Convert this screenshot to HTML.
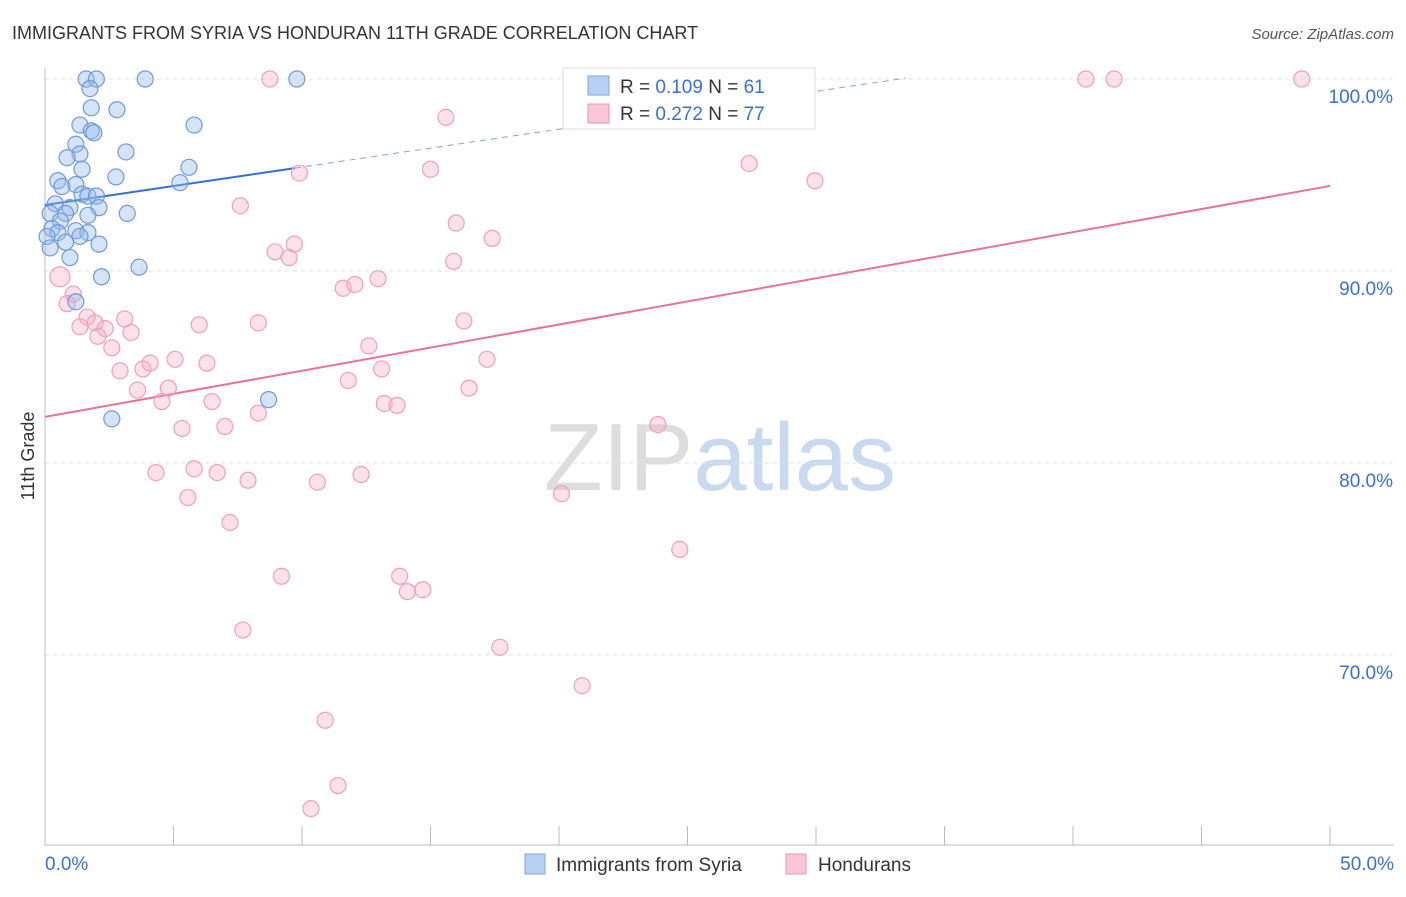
<!DOCTYPE html>
<html><head><meta charset="utf-8">
<style>
body{margin:0;background:#fff;font-family:"Liberation Sans",sans-serif;}
svg text{font-family:"Liberation Sans",sans-serif;}
</style></head>
<body>
<svg id="chart" width="1406" height="892" xmlns="http://www.w3.org/2000/svg">
<text x="12" y="39" font-size="18" fill="#333">IMMIGRANTS FROM SYRIA VS HONDURAN 11TH GRADE CORRELATION CHART</text>
<text x="1394" y="39" font-size="15" fill="#555" text-anchor="end" font-style="italic">Source: ZipAtlas.com</text>
<text x="720" y="490" font-size="96" fill="#ddd" text-anchor="middle" font-family="Liberation Serif">ZIP<tspan fill="#c9d9f0" font-family="Liberation Sans">atlas</tspan></text>
<text transform="translate(34,456) rotate(-90)" font-size="18" fill="#333" text-anchor="middle">11th Grade</text>
<g id="grid"></g><g id="axes"></g><g id="trends"></g><g id="pts"></g>
<g>
<rect x="563" y="68" width="252" height="61" fill="#fff" stroke="#ddd"/>
<rect x="588" y="76" width="21" height="19" fill="#b7d0f3" stroke="#7ea6e0"/>
<rect x="588" y="104" width="21" height="19" fill="#f9c6d6" stroke="#eb93b0"/>
<text x="620" y="93" font-size="19" fill="#333">R = <tspan fill="#3a6fd8">0.109</tspan>   N =  <tspan fill="#3a6fd8">61</tspan></text>
<text x="620" y="120" font-size="19" fill="#333">R = <tspan fill="#3a6fd8">0.272</tspan>   N = <tspan fill="#3a6fd8">77</tspan></text>
</g>
<g>
<rect x="525" y="854" width="20" height="20" fill="#b7d0f3" stroke="#7ea6e0"/>
<text x="556" y="871" font-size="19" fill="#333">Immigrants from Syria</text>
<rect x="786" y="854" width="20" height="20" fill="#f9c6d6" stroke="#eb93b0"/>
<text x="818" y="871" font-size="19" fill="#333">Hondurans</text>
</g>
</svg>
<script>
const yTicks=[70,80,90,100];
const yTickLabels=["70.0%","80.0%","90.0%","100.0%"];
const xTicks=[0,5,10,15,20,25,30,35,40,45,50];
const syriaX=[1.6,2.0,3.9,9.8,1.75,1.8,2.8,1.36,1.8,1.9,5.8,1.2,3.15,1.36,0.86,1.44,5.6,2.76,0.5,5.25,0.66,1.2,1.44,1.67,2.0,0.4,0.97,2.1,3.2,0.2,0.8,1.67,0.6,0.27,1.2,1.67,0.5,0.08,1.36,0.8,2.1,0.2,0.97,3.66,2.2,1.2,8.7,2.6];
const syriaY=[100,100,100,100,99.5,98.5,98.4,97.6,97.3,97.2,97.6,96.6,96.2,96.1,95.9,95.3,95.4,94.9,94.7,94.6,94.4,94.5,94.0,93.9,93.9,93.5,93.3,93.3,93.0,93.0,93.0,92.9,92.6,92.2,92.1,92.0,92.0,91.8,91.8,91.5,91.4,91.2,90.7,90.2,89.7,88.4,83.3,82.3];
const hondX=[8.75,28.1,40.5,41.6,48.9,15.6,27.4,9.9,15.0,29.96,7.6,16.0,17.4,9.7,8.95,9.5,15.9,12.96,11.6,12.06,0.58,1.1,0.86,16.3,1.64,3.1,6.0,8.3,1.36,1.95,2.34,3.35,2.06,2.6,12.6,17.2,5.06,6.3,4.09,3.81,2.92,13.1,11.8,3.6,4.8,16.5,4.55,6.5,13.2,13.7,8.3,7.0,5.33,23.85,4.32,5.8,6.7,12.3,7.9,10.6,5.56,20.1,7.2,24.7,9.2,13.8,14.1,14.7,7.7,17.7,20.9,10.9,11.4,10.35];
const hondY=[100,100,100,100,100,98.0,95.6,95.1,95.3,94.7,93.4,92.5,91.7,91.4,91.0,90.7,90.5,89.6,89.1,89.3,89.7,88.8,88.3,87.4,87.6,87.5,87.2,87.3,87.1,87.3,87.0,86.8,86.6,86.0,86.1,85.4,85.4,85.2,85.2,84.9,84.8,84.9,84.3,83.8,83.9,83.9,83.2,83.2,83.1,83.0,82.6,81.9,81.8,82.0,79.5,79.7,79.5,79.4,79.1,79.0,78.2,78.4,76.9,75.5,74.1,74.1,73.3,73.4,71.3,70.4,68.4,66.6,63.2,62.0];
const syriaTrend=[93.44,95.36];   // y at x=0 and x=9.73 (solid end)
const syriaTrendXEnd=[9.73,33.5];
const hondTrend=[82.4,94.43];     // y at x=0 and x=50
const NS='http://www.w3.org/2000/svg';
const X=v=>45+v*25.7, Y=v=>79+(100-v)*19.2;
function mk(tag,attrs,parent){const e=document.createElementNS(NS,tag);for(const k in attrs)e.setAttribute(k,attrs[k]);parent.appendChild(e);return e;}
const grid=document.getElementById('grid'),axes=document.getElementById('axes');
yTicks.forEach((t,i)=>{
 const l=mk('line',{x1:45,x2:1394,y1:Y(t),y2:Y(t),stroke:'#e2e2e2','stroke-dasharray':'4,4'},grid);
 
 
 const tx=mk('text',{x:1393,y:Y(t)+24,'font-size':19,fill:'#3a6fd8','text-anchor':'end'},axes);
 tx.textContent=yTickLabels[i];
 
 
});
const ya=mk('line',{x1:45,x2:45,y1:68,y2:845,stroke:'#bbb'},axes);


const xa=mk('line',{x1:45,x2:1394,y1:845,y2:845,stroke:'#bbb'},axes);


xTicks.forEach(t=>{const l=mk('line',{x1:X(t),x2:X(t),y1:826,y2:845,stroke:'#bbb'},axes);
 
 });
const x0=mk('text',{x:45,y:870,'font-size':19,fill:'#3a6fd8'},axes);x0.textContent='0.0%';


const x1=mk('text',{x:1394,y:870,'font-size':19,fill:'#3a6fd8','text-anchor':'end'},axes);x1.textContent='50.0%';


const pts=document.getElementById('pts');
hondX.forEach((v,i)=>{const c=mk('circle',{cx:X(v),cy:Y(hondY[i]),r:i==20?10:8,fill:'rgba(246,170,195,0.35)',stroke:'#eda0bb','stroke-width':1.2},pts);
 
 });
syriaX.forEach((v,i)=>{const c=mk('circle',{cx:X(v),cy:Y(syriaY[i]),r:8,fill:'rgba(150,185,235,0.4)',stroke:'#6f9ad8','stroke-width':1.2},pts);
 
 });
const tr=document.getElementById('trends');
const slope=(syriaTrend[1]-syriaTrend[0])/syriaTrendXEnd[0];
const ts=mk('line',{x1:X(0),y1:Y(syriaTrend[0]),x2:X(syriaTrendXEnd[0]),y2:Y(syriaTrend[1]),stroke:'#2f6fd6','stroke-width':2},tr);


const td=mk('line',{x1:X(syriaTrendXEnd[0]),y1:Y(syriaTrend[1]),x2:X(syriaTrendXEnd[1]),y2:Y(syriaTrend[0]+slope*syriaTrendXEnd[1]),stroke:'#7fa3dd','stroke-width':1,'stroke-dasharray':'6,5'},tr);


const th=mk('line',{x1:X(0),y1:Y(hondTrend[0]),x2:X(50),y2:Y(hondTrend[1]),stroke:'#e8719b','stroke-width':2},tr);


</script>
</body></html>
